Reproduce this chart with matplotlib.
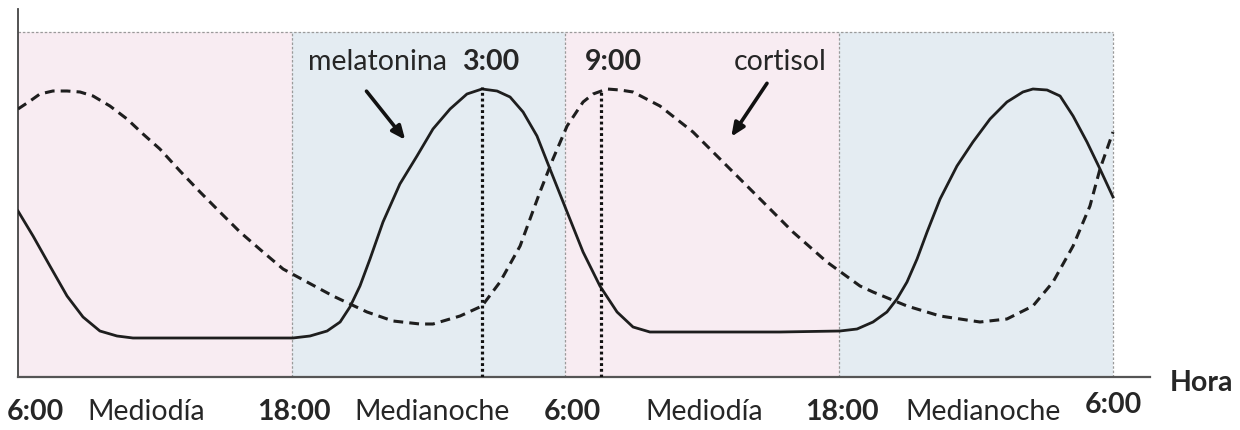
import matplotlib
matplotlib.use("Agg")
import matplotlib.pyplot as plt

plt.rcParams['font.family'] = ['Lato', 'DejaVu Sans']

# horas desde las 6:00 del primer día
mel_hours = [0, 0.66, 1.40, 2.15, 2.85, 3.59, 4.34, 5.04, 5.79, 7.98, 10.17, 12.05, 12.80,
             13.55, 14.12, 14.55, 14.99, 15.43, 16.00, 16.74, 17.49, 18.19, 18.94, 19.68,
             20.34, 21.00, 21.57, 22.14, 22.75, 23.32, 24.07, 24.77, 25.51, 26.26, 26.96,
             27.70, 29.90, 33.40, 36.03, 36.78, 37.48, 38.09, 38.53, 38.97, 39.41, 39.85,
             40.42, 41.16, 41.86, 42.61, 43.35, 44.05, 44.49, 45.11, 45.68, 46.25, 46.86,
             47.43, 48.0]
mel_level = [166, 141, 111, 81, 60, 46, 41, 39, 39, 39, 39, 39, 41,
             46, 55, 70, 91, 118, 155, 193, 221, 248, 268, 283,
             288, 286, 280, 265, 241, 208, 165, 125, 91, 65, 50,
             45, 45, 45, 46, 48, 55, 65, 78, 95, 118, 145,
             178, 211, 235, 258, 275, 285, 288, 287, 281, 261, 235,
             208, 180]

cort_hours = [0, 0.53, 0.96, 1.53, 2.15, 2.72, 3.29, 4.03, 4.78, 5.48, 6.22, 7.10, 7.98,
              8.85, 9.73, 10.74, 11.62, 12.67, 13.81, 15.30, 16.44, 17.62, 18.19, 19.38,
              20.34, 21.13, 22.01, 22.88, 23.45, 24.07, 24.77, 25.21, 25.82, 26.39, 26.96,
              28.14, 29.59, 31.08, 32.53, 33.97, 35.46, 36.91, 37.48, 38.97, 40.42, 42.17,
              43.35, 44.49, 45.37, 46.25, 46.99, 47.43, 48.0]
cort_level = [268, 276, 283, 286, 286, 285, 281, 271, 258, 243, 228, 206, 185,
              165, 145, 125, 108, 95, 81, 65, 56, 53, 53, 61,
              71, 95, 131, 185, 218, 251, 275, 283, 288, 287, 285,
              271, 245, 211, 178, 145, 115, 91, 85, 71, 61, 55,
              58, 71, 95, 131, 171, 208, 245]

period_edges = [0, 12, 24, 36, 48]
period_colors = ['#f8ecf2', '#e4ecf2', '#f8ecf2', '#e4ecf2']
panel_top = 345

peak_hours = [20.34, 25.56]
peak_levels = [290, 287]
peak_label_hours = [20.7, 26.1]
peak_labels = ['3:00', '9:00']

tick_hours = [0.75, 5.6, 12.1, 18.15, 24.3, 30.1, 36.1, 42.3, 48.0]
tick_labels = ['6:00', 'Mediodía', '18:00', 'Medianoche', '6:00', 'Mediodía', '18:00', 'Medianoche', '6:00']
tick_bold = [True, False, True, False, True, False, True, False, True]
tick_y = [-34, -34, -34, -34, -34, -34, -34, -34, -27]

fs = 20.5
ink = '#262626'

fig = plt.figure(figsize=(12.4, 4.31), dpi=100)
ax = fig.add_axes([18 / 1240, 53 / 431, 1132 / 1240, 368 / 431])
ax.set_xlim(0, 1132 / 22.8125)
ax.set_ylim(0, 368)

# fondos día / noche
for i in range(len(period_colors)):
    ax.axvspan(period_edges[i], period_edges[i + 1], ymax=panel_top / 368,
               color=period_colors[i], lw=0, zorder=0)
ax.vlines(period_edges[1:], 0, panel_top, colors='#9a9a9a', linestyles=(0, (2, 1.5)), lw=0.9, zorder=1)
ax.hlines(panel_top, period_edges[0], period_edges[-1], colors='#9a9a9a', linestyles=(0, (2, 1.5)), lw=0.9, zorder=1)

# curvas
ax.plot(mel_hours, mel_level, color='#1e1e1e', lw=2.0, solid_joinstyle='round', zorder=3)
ax.plot(cort_hours, cort_level, color='#1e1e1e', lw=2.2, dashes=(3.2, 2.0), zorder=3)

# líneas punteadas de los picos
ax.vlines(peak_hours, 0, peak_levels, colors='#111111', linestyles=(0, (0.9, 0.9)), lw=2.3, zorder=4)

# rótulos en el gráfico
ax.text(18.8, 316, 'melatonina', ha='right', va='center', fontsize=fs, color=ink)
for h, lab in zip(peak_label_hours, peak_labels):
    ax.text(h, 316, lab, ha='center', va='center', fontsize=fs, fontweight='bold', color=ink)
ax.text(33.4, 316, 'cortisol', ha='center', va='center', fontsize=fs, color=ink)

ax.annotate('', xy=(17.05, 235), xytext=(15.2, 288),
            arrowprops=dict(arrowstyle='-|>,head_length=0.8,head_width=0.35', color='#111111', lw=2.6))
ax.annotate('', xy=(31.2, 238), xytext=(32.9, 296),
            arrowprops=dict(arrowstyle='-|>,head_length=0.8,head_width=0.35', color='#111111', lw=2.6))

# ejes
for side in ['top', 'right']:
    ax.spines[side].set_visible(False)
ax.spines['left'].set_color('#444444')
ax.spines['bottom'].set_color('#555555')
ax.spines['left'].set_linewidth(1.3)
ax.spines['bottom'].set_linewidth(1.6)
ax.set_xticks([])
ax.set_yticks([])

for h, lab, b, y in zip(tick_hours, tick_labels, tick_bold, tick_y):
    ax.text(h, y, lab, ha='center', va='center', fontsize=fs,
            fontweight='bold' if b else 'normal', color=ink, clip_on=False)
ax.text(51.9, -5, 'Hora', ha='center', va='center', fontsize=fs, fontweight='bold',
        color=ink, clip_on=False)

fig.savefig('out.png', dpi=100, facecolor='white')
